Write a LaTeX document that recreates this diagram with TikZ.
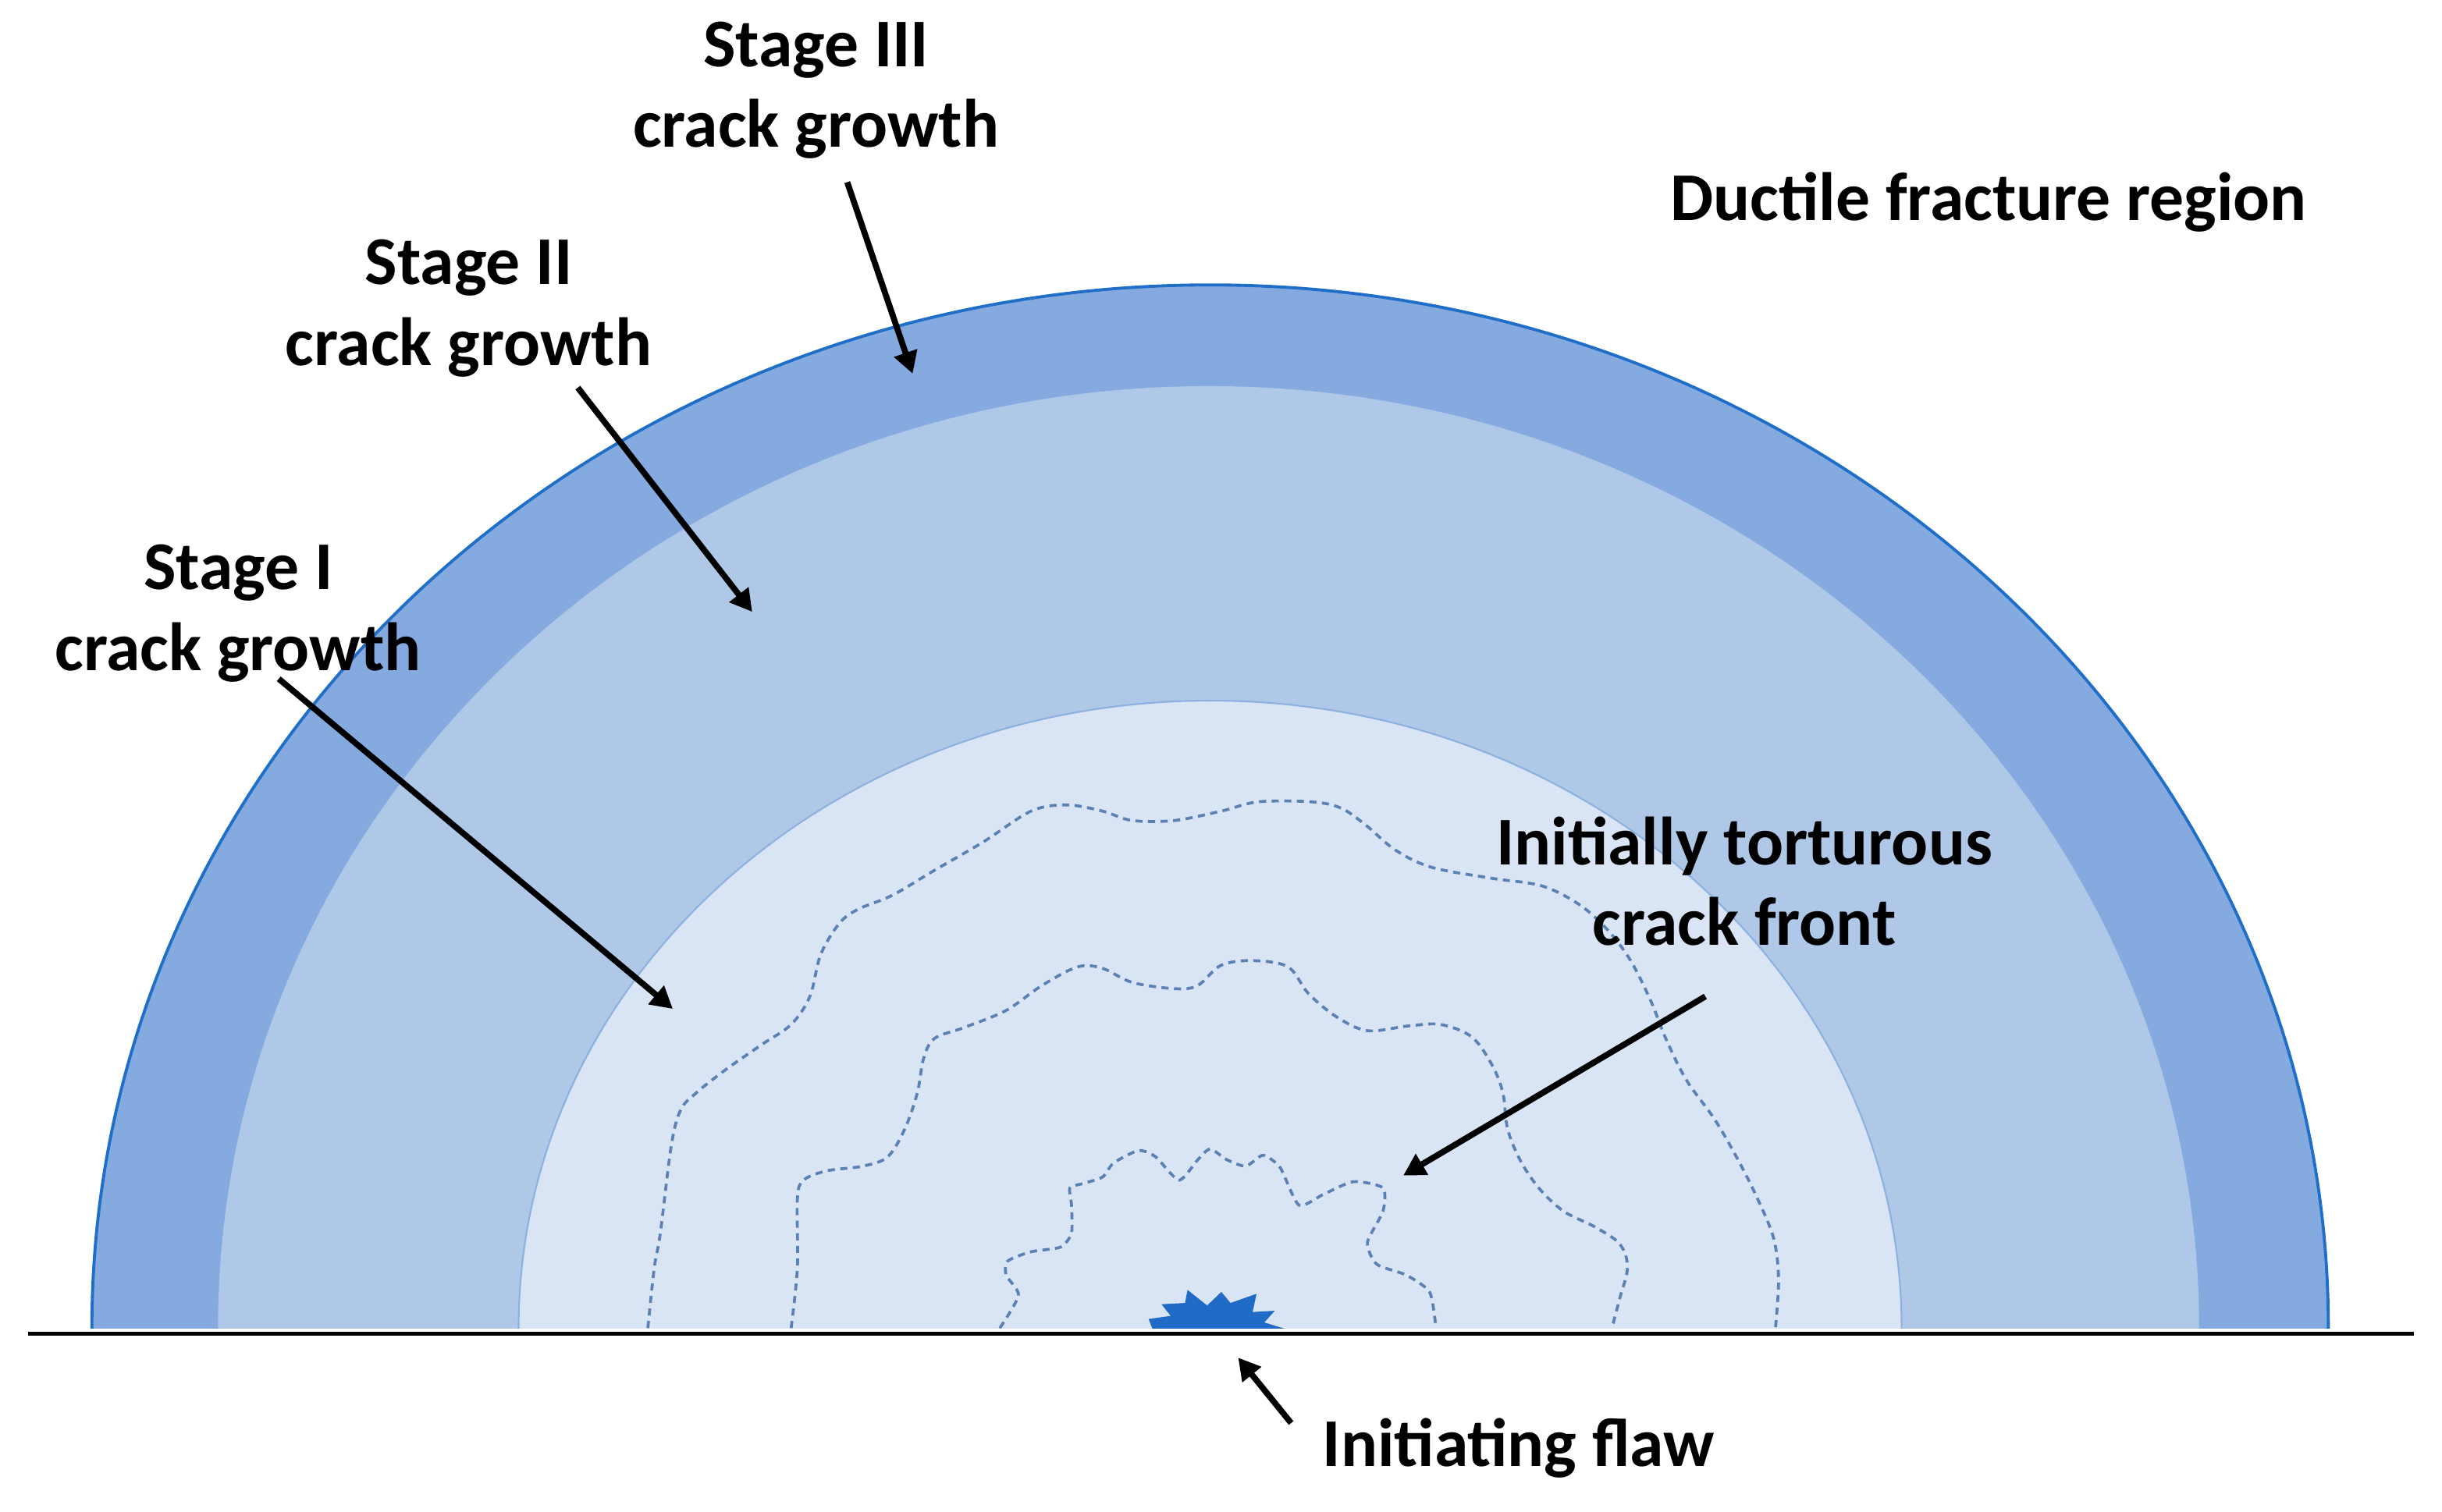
\documentclass[tikz,border=0pt]{standalone}
\usepackage{fontspec}
\setmainfont{Carlito}
\usetikzlibrary{arrows.meta}
\definecolor{ringout}{HTML}{84AADF}
\definecolor{ringmid}{HTML}{AFC8E8}
\definecolor{ringin}{HTML}{D9E4F4}
\definecolor{edgeout}{HTML}{1F6EC8}
\definecolor{edgein}{HTML}{8CB0E0}
\definecolor{crackc}{HTML}{5B80B4}
\definecolor{flawc}{HTML}{1F6BC6}
\tikzset{
  lbl/.style={font=\fontsize{25}{29.5}\selectfont\bfseries, align=center, inner sep=0pt},
  pointer/.style={draw=black, line width=2.2pt, -{Triangle[length=8pt,width=8.5pt]}},
  crackline/.style={draw=crackc, line width=1.05pt, dash pattern=on 2.6pt off 2pt},
}
\begin{document}
\begin{tikzpicture}[x=0.02cm,y=-0.02cm]
\useasboundingbox (0,0) rectangle (1568,971);
\begin{scope}
  \clip (0,0) rectangle (1568,853);
  \fill[ringout] (777,853) ellipse [x radius=718, y radius=670];
  \draw[edgeout, line width=1.1pt] (777,853) ellipse [x radius=718, y radius=670];
  \fill[ringmid] (776,853) ellipse [x radius=636, y radius=605];
  \fill[ringin] (777,853) ellipse [x radius=444, y radius=403];
  \draw[edgein, line width=0.6pt] (777,853) ellipse [x radius=444, y radius=403];
  % crack fronts
  \draw[crackline] plot[smooth, tension=0.55] coordinates {(416,853) (420,815) (424,792) (431,736) (437,713) (447,702) (466,687) (489,671) (508,658) (520,640) (527,613) (539,593) (551,584) (573,575) (600,559) (631,541) (662,521) (685,517) (708,521) (727,527) (754,527) (784,521) (808,515) (842,515) (861,519) (877,530) (896,546) (919,557) (957,564) (990,569) (1014,581) (1032,597) (1047,617) (1060,643) (1070,668) (1083,694) (1101,719) (1116,745) (1129,771) (1139,796) (1142,822) (1140,853)};
  \draw[crackline] plot[smooth, tension=0.55] coordinates {(508,853) (512,814) (512,770) (516,758) (531,752) (554,749) (570,743) (581,725) (589,702) (593,680) (600,667) (619,660) (646,649) (669,633) (692,621) (708,622) (727,631) (754,635) (769,633) (784,620) (804,617) (827,621) (840,638) (858,653) (878,662) (904,659) (925,658) (945,666) (958,684) (965,702) (968,725) (976,745) (988,763) (1004,778) (1024,788) (1040,799) (1045,814) (1040,834) (1035,853)};
  \draw[crackline] plot[smooth, tension=0.4] coordinates {(642,853) (654,832) (646,819) (647,810) (662,804) (681,801) (688,792) (688,774) (687,763) (696,760) (708,756) (715,747) (731,739) (742,743) (757,758) (769,745) (777,738) (788,745) (800,749) (811,742) (822,750) (834,774) (850,767) (869,759) (888,763) (888,778) (878,798) (884,812) (903,819) (918,830) (922,853)};
  % initiating flaw
  \fill[flawc] (740,853.5) -- (737.5,847.2) -- (751.7,845.2) -- (745.8,837.7) -- (760.9,836.9) -- (762.5,828.5) -- (775.1,838.5) -- (784.2,829.8) -- (790.1,836.9) -- (806.8,831) -- (804.3,842.7) -- (818.5,841.9) -- (811.8,849.4) -- (825.2,853.5) -- cycle;
\end{scope}
% base line
\coordinate (baseL) at (18,856.5);
\coordinate (baseR) at (1550,856.5);
\draw[black, line width=1.5pt] (baseL) -- (baseR);
% labels
\node[lbl] (s3) at (524,58) {Stage III\\crack growth};
\node[lbl] (s2) at (301,198) {Stage II\\crack growth};
\node[lbl] (s1) at (153,394) {Stage I\\crack growth};
\node[lbl] (duct) at (1277,130) {Ductile fracture region};
\node[lbl] (tort) at (1120,566) {Initially torturous\\crack front};
\node[lbl] (flaw) at (975,930) {Initiating flaw};
% arrow end points
\coordinate (s3a) at (544,117);  \coordinate (s3b) at (586,240);
\coordinate (s2a) at (371,249);  \coordinate (s2b) at (483,393);
\coordinate (s1a) at (179,436);  \coordinate (s1b) at (432,648);
\coordinate (ta) at (1095,640);  \coordinate (tb) at (901,755);
\coordinate (fa) at (829,914);   \coordinate (fb) at (795,872);
\draw[pointer] (s3a) -- (s3b);
\draw[pointer] (s2a) -- (s2b);
\draw[pointer] (s1a) -- (s1b);
\draw[pointer] (ta) -- (tb);
\draw[pointer] (fa) -- (fb);
\end{tikzpicture}
\end{document}
